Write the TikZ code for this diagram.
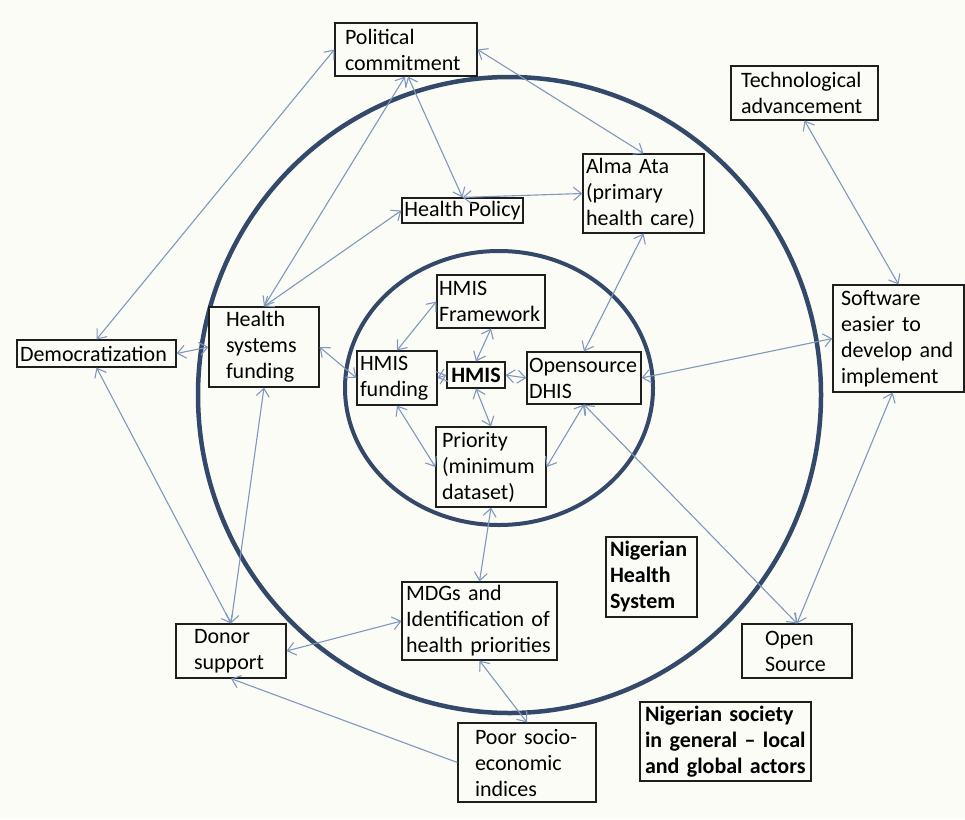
\documentclass[tikz,border=0pt]{standalone}
\usepackage{fontspec}
\setmainfont{Carlito}
\usetikzlibrary{arrows.meta}
\definecolor{bg}{HTML}{FCFCF7}
\definecolor{ring}{HTML}{34496A}
\definecolor{conn}{HTML}{7F98BC}
\definecolor{boxc}{HTML}{1E1E1E}
\hyphenpenalty=10000
\exhyphenpenalty=10000
\newcommand\bxfont{\fontsize{22}{26}\selectfont}
\tikzset{
  box/.style={draw=boxc, line width=1.2pt, fill=bg, align=left, inner ysep=0pt, font=\bxfont},
  arr/.style={draw=conn, line width=1.1pt, {Straight Barb[length=8pt,width=13pt]}-{Straight Barb[length=8pt,width=13pt]}},
  arrone/.style={draw=conn, line width=1.1pt, -{Straight Barb[length=8pt,width=13pt]}},
  ring/.style={draw=ring, line width=4.5pt}
}
\begin{document}
\begin{tikzpicture}[x=1pt,y=-1pt]
\fill[bg] (0,0) rectangle (965,819);
\useasboundingbox (0,0) rectangle (965,819);
% rings
\draw[ring] (509.5,395) ellipse [x radius=311.5pt, y radius=318pt];
\draw[ring, line width=4pt] (499,388) ellipse [x radius=154pt, y radius=137pt];
% nodes
\node[box, minimum width=142pt, minimum height=53pt, inner xsep=10pt, text width=122pt] (pol) at (406,49.5) {Political\\commitment};
\node[box, minimum width=121pt, minimum height=25pt, inner xsep=1pt] (hp) at (462.5,210.5) {Health Policy};
\node[box, minimum width=121pt, minimum height=79pt, inner xsep=3pt, text width=115pt] (alma) at (643.5,193.5) {Alma Ata\\(primary\\health care)};
\node[box, minimum width=147pt, minimum height=54pt, inner xsep=10pt, text width=127pt] (tech) at (804.5,93) {Technological\\advancement};
\node[box, minimum width=131pt, minimum height=107pt, inner xsep=8pt, text width=115pt] (soft) at (898.5,338.5) {Software\\easier to\\develop and\\implement};
\node[box, minimum width=159pt, minimum height=27pt, inner xsep=3pt, text width=153pt] (dem) at (96.5,353.5) {Democratization};
\node[box, minimum width=110pt, minimum height=80pt, inner xsep=17pt, text width=76pt] (hsf) at (264,347) {Health\\systems\\funding};
\node[box, minimum width=80pt, minimum height=54pt, inner xsep=3pt, text width=74pt] (hf) at (397,378) {HMIS\\funding};
\node[box, minimum width=108pt, minimum height=53pt, inner xsep=2pt, text width=104pt] (hfw) at (491,301.5) {HMIS\\Framework};
\node[box, minimum width=58pt, minimum height=26pt, inner xsep=3pt, font=\bxfont\bfseries] (hmis) at (476,375) {HMIS};
\node[box, minimum width=114pt, minimum height=52pt, inner xsep=2pt, text width=110pt] (dhis) at (584,378) {Opensource\\DHIS};
\node[box, minimum width=110pt, minimum height=80pt, inner xsep=6pt, text width=98pt] (pri) at (491,467) {Priority\\(minimum\\dataset)};
\node[box, minimum width=155pt, minimum height=78pt, inner xsep=4pt, text width=147pt] (mdg) at (479.5,621) {MDGs and\\Identification of\\health priorities};
\node[box, minimum width=110pt, minimum height=54pt, inner xsep=18pt, text width=74pt] (donor) at (231,651) {Donor\\support};
\node[box, minimum width=138pt, minimum height=79pt, inner xsep=17pt, text width=104pt] (poor) at (527,762.5) {Poor socio-\\economic\\indices};
\node[box, minimum width=91pt, minimum height=80pt, inner xsep=4pt, text width=83pt, font=\bxfont\bfseries] (nhs) at (651.5,577) {Nigerian\\Health\\System};
\node[box, minimum width=110pt, minimum height=54pt, inner xsep=23pt, text width=64pt] (os) at (797,651) {Open\\Source};
\node[box, minimum width=171pt, minimum height=79pt, inner xsep=5pt, text width=161pt, font=\bxfont\bfseries] (soc) at (725.5,741.5) {Nigerian society\\in general \textendash{} local\\and global actors};
% connectors
\draw[arr] (pol.west) -- (dem.north);
\draw[arr] ([xshift=-1pt]pol.south) -- (hsf.north);
\draw[arr] ([xshift=2pt]pol.south) -- (hp.north);
\draw[arr] (pol.east) -- (alma.north);
\draw[arr] (hp.north) -- (alma.west);
\draw[arr] (hsf.north) -- (hp.west);
\draw[arr] (dem.east) -- (hsf.west);
\draw[arr] (dem.south) -- (donor.north);
\draw[arr] (hsf.south) -- (donor.north);
\draw[arr] (hsf.east) -- (hf.west);
\draw[arr] (hf.north) -- (hfw.west);
\draw[arr] (hfw.south) -- (hmis.north);
\draw[arr] (hmis.west) -- (hf.east);
\draw[arr] (hmis.east) -- (dhis.west);
\draw[arr] (hmis.south) -- (pri.north);
\draw[arr] (hf.south) -- (pri.west);
\draw[arr] (dhis.south) -- (pri.east);
\draw[arr] (alma.south) -- (dhis.north);
\draw[arr] (dhis.east) -- (soft.west);
\draw[arr] (tech.south) -- (soft.north);
\draw[arr] ([xshift=-6pt]soft.south) -- (os.north);
\draw[arr] (dhis.south) -- (os.north);
\draw[arr] (pri.south) -- (mdg.north);
\draw[arr] (mdg.west) -- (donor.east);
\draw[arr] (mdg.south) -- (poor.north);
\draw[arrone] (poor.west) -- (donor.south);
\end{tikzpicture}
\end{document}
